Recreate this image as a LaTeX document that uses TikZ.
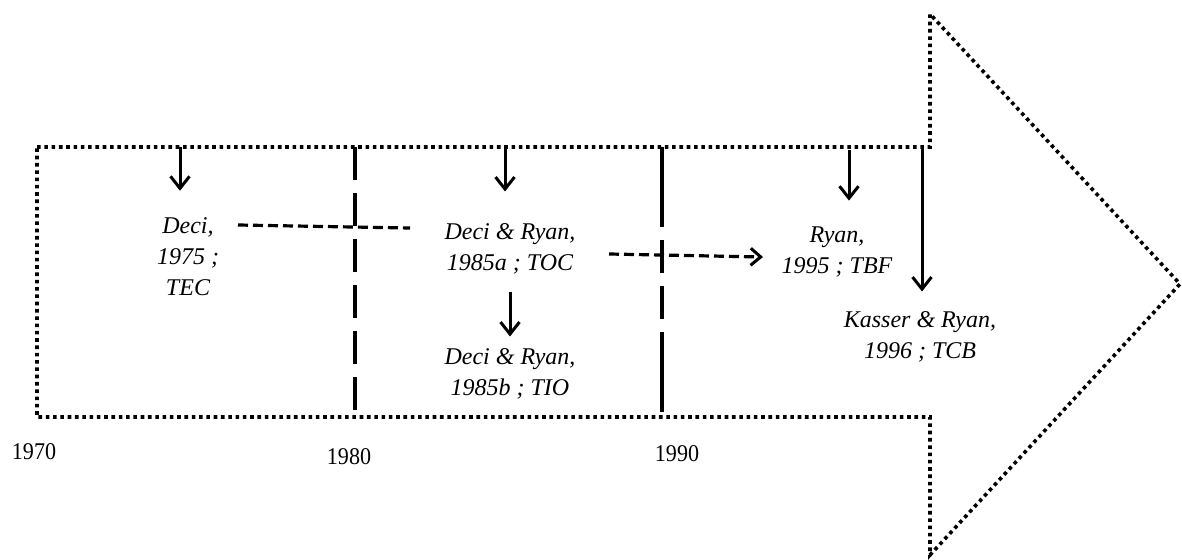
\documentclass[tikz,border=0pt]{standalone}
\usepackage{fontspec}
\setmainfont{Liberation Serif}
\usetikzlibrary{arrows.meta}
\begin{document}
\begin{tikzpicture}[x=1pt,y=-1pt,
  outline/.style={line width=3.6pt, dash pattern=on 3.6pt off 3.7pt},
  era/.style={line width=3.4pt, dash pattern=on 33pt off 13pt},
  link/.style={line width=3.2pt, dash pattern=on 10pt off 5pt},
  arr/.style={line width=3pt, -{Straight Barb[length=12pt,width=19pt,line width=3pt]}},
  ref/.style={font=\fontsize{24}{31}\selectfont\itshape, align=center, inner sep=0pt},
  yearlabel/.style={font=\fontsize{24}{28}\selectfont, inner sep=0pt}]
\useasboundingbox (0,0) rectangle (1182,559);

% timeline arrow outline
\draw[outline] (37,147) -- (930,147) -- (930,14) -- (1180,284)
  -- (930,555) -- (930,417) -- (37,417) -- cycle;

% decade separators
\coordinate (d1t) at (355,147); \coordinate (d1b) at (355,417);
\coordinate (d2t) at (662,147); \coordinate (d2b) at (662,417);
\draw[era] (d1t) -- (d1b);
\draw[line width=3.4pt, dash pattern=on 80pt off 13pt on 33pt off 13pt on 33pt off 13pt on 80pt]
  (d2t) -- (d2b);

% references
\node[ref] (n1) at (188,257) {Deci,\\1975 ;\\TEC};
\node[ref] (n2) at (510,249) {Deci \& Ryan,\\1985a ; TOC};
\node[ref] (n3) at (510,374) {Deci \& Ryan,\\1985b ; TIO};
\node[ref] (n4) at (837,252) {Ryan,\\1995 ; TBF};
\node[ref] (n5) at (920,337) {Kasser \& Ryan,\\1996 ; TCB};

% years
\node[yearlabel] (y1) at (34,452) {\scalebox{0.92}[1]{1970}};
\node[yearlabel] (y2) at (349,457) {\scalebox{0.92}[1]{1980}};
\node[yearlabel] (y3) at (677,454) {\scalebox{0.92}[1]{1990}};

% entry points on the top edge
\coordinate (t1) at (180,147);
\coordinate (t2) at (505,147);
\coordinate (t4) at (849,150);
\coordinate (t5) at (922,148);

\draw[arr, shorten >=27pt] (t1) -- (t1 |- n1.north);
\draw[arr, shorten >=32pt] (t2) -- (t2 |- n2.north);
\draw[arr, shorten >=26pt] (t4) -- (t4 |- n4.north);
\draw[arr, shorten >=20pt] (t5) -- (t5 |- n5.north);
\draw[arr, shorten <=17pt, shorten >=12pt] (n2.south) -- (n3.north);

% links between theories
\coordinate (l1a) at (238,225);
\coordinate (l1b) at (410,228);
\draw[link] (l1a) -- (l1b);
\coordinate (l2a) at (609,254);
\coordinate (l2b) at (763,257);
\draw[link, -{Straight Barb[length=10pt,width=17pt,line width=3pt]}] (l2a) -- (l2b);
\end{tikzpicture}
\end{document}
